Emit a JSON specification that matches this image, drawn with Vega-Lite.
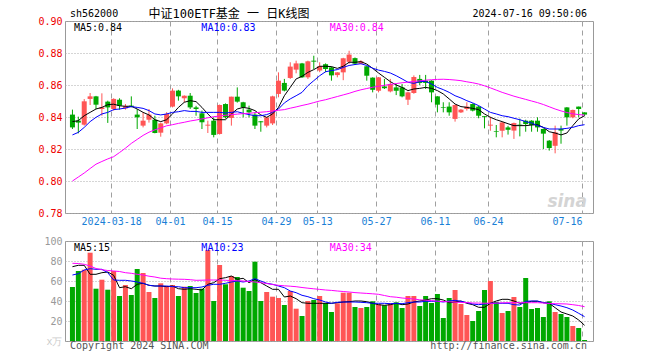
{
  "$schema": "https://vega.github.io/schema/vega-lite/v6.json",
  "background": "white",
  "padding": {"left": 0, "top": 7, "right": 5, "bottom": 5},
  "bounds": "flush",
  "spacing": 28,
  "config": {
    "view": {"stroke": "#999999", "strokeWidth": 1},
    "font": "DejaVu Sans Mono",
    "axis": {"labelFont": "DejaVu Sans Mono", "labelFontSize": 10, "ticks": false, "domain": false, "title": null, "labelOverlap": false, "labelBound": false},
    "text": {"font": "DejaVu Sans Mono", "fontSize": 10}
  },
  "datasets": {
    "k": [
      {"i":0,"o":0.8415,"h":0.8446,"l":0.8325,"c":0.8335,"m5":0.8371,"m10":0.8288,"m30":0.8000,"v":54,"vm5":74.3,"vm10":66,"vm30":77.7},
      {"i":1,"o":0.8377,"h":0.8402,"l":0.8298,"c":0.8365,"m5":0.8377,"m10":0.8304,"m30":0.8025,"v":70,"vm5":75.7,"vm10":67.3,"vm30":77.5},
      {"i":2,"o":0.8352,"h":0.8512,"l":0.8346,"c":0.8498,"m5":0.8408,"m10":0.8335,"m30":0.8050,"v":71.3,"vm5":75.7,"vm10":71,"vm30":76.7},
      {"i":3,"o":0.8513,"h":0.8550,"l":0.8475,"c":0.8529,"m5":0.8429,"m10":0.8371,"m30":0.8078,"v":88.3,"vm5":66.7,"vm10":72.3,"vm30":75},
      {"i":4,"o":0.8529,"h":0.8532,"l":0.8450,"c":0.8477,"m5":0.8450,"m10":0.8398,"m30":0.8105,"v":52.3,"vm5":66.7,"vm10":71.7,"vm30":72.5},
      {"i":5,"o":0.8450,"h":0.8548,"l":0.8408,"c":0.8460,"m5":0.8460,"m10":0.8419,"m30":0.8122,"v":61.3,"vm5":68.3,"vm10":71.7,"vm30":71.3},
      {"i":6,"o":0.8496,"h":0.8502,"l":0.8363,"c":0.8460,"m5":0.8477,"m10":0.8429,"m30":0.8138,"v":51.3,"vm5":69,"vm10":68.3,"vm30":70.5},
      {"i":7,"o":0.8450,"h":0.8517,"l":0.8440,"c":0.8513,"m5":0.8480,"m10":0.8446,"m30":0.8152,"v":70,"vm5":65.7,"vm10":61,"vm30":70},
      {"i":8,"o":0.8508,"h":0.8517,"l":0.8446,"c":0.8471,"m5":0.8470,"m10":0.8450,"m30":0.8178,"v":45,"vm5":53.3,"vm10":60.7,"vm30":69.5},
      {"i":9,"o":0.8454,"h":0.8481,"l":0.8446,"c":0.8467,"m5":0.8467,"m10":0.8456,"m30":0.8205,"v":56,"vm5":54.3,"vm10":60.7,"vm30":68.3},
      {"i":10,"o":0.8471,"h":0.8529,"l":0.8460,"c":0.8465,"m5":0.8467,"m10":0.8465,"m30":0.8235,"v":46,"vm5":52.3,"vm10":60,"vm30":67.7},
      {"i":11,"o":0.8415,"h":0.8450,"l":0.8325,"c":0.8398,"m5":0.8450,"m10":0.8460,"m30":0.8260,"v":72,"vm5":56.7,"vm10":59,"vm30":66.7},
      {"i":12,"o":0.8346,"h":0.8429,"l":0.8335,"c":0.8377,"m5":0.8429,"m10":0.8454,"m30":0.8285,"v":68,"vm5":57.7,"vm10":57.7,"vm30":66},
      {"i":13,"o":0.8383,"h":0.8450,"l":0.8365,"c":0.8415,"m5":0.8413,"m10":0.8440,"m30":0.8305,"v":49,"vm5":55.7,"vm10":55.7,"vm30":64.8},
      {"i":14,"o":0.8383,"h":0.8408,"l":0.8298,"c":0.8300,"m5":0.8383,"m10":0.8419,"m30":0.8320,"v":43,"vm5":55,"vm10":55,"vm30":64},
      {"i":15,"o":0.8302,"h":0.8365,"l":0.8277,"c":0.8360,"m5":0.8371,"m10":0.8413,"m30":0.8332,"v":57.7,"vm5":55,"vm10":55,"vm30":62.8},
      {"i":16,"o":0.8360,"h":0.8430,"l":0.8355,"c":0.8419,"m5":0.8383,"m10":0.8419,"m30":0.8345,"v":55,"vm5":54.3,"vm10":55,"vm30":62.3},
      {"i":17,"o":0.8465,"h":0.8579,"l":0.8460,"c":0.8565,"m5":0.8419,"m10":0.8429,"m30":0.8352,"v":56,"vm5":55,"vm10":54.3,"vm30":62},
      {"i":18,"o":0.8565,"h":0.8570,"l":0.8502,"c":0.8529,"m5":0.8460,"m10":0.8433,"m30":0.8360,"v":45,"vm5":52.3,"vm10":54.3,"vm30":61.8},
      {"i":19,"o":0.8517,"h":0.8535,"l":0.8492,"c":0.8533,"m5":0.8492,"m10":0.8440,"m30":0.8367,"v":54.3,"vm5":51.7,"vm10":53.3,"vm30":61.7},
      {"i":20,"o":0.8533,"h":0.8550,"l":0.8450,"c":0.8460,"m5":0.8502,"m10":0.8435,"m30":0.8375,"v":55,"vm5":52.3,"vm10":53.3,"vm30":61.3},
      {"i":21,"o":0.8460,"h":0.8470,"l":0.8408,"c":0.8450,"m5":0.8496,"m10":0.8435,"m30":0.8381,"v":48,"vm5":51.7,"vm10":53.3,"vm30":60.7},
      {"i":22,"o":0.8423,"h":0.8440,"l":0.8325,"c":0.8367,"m5":0.8460,"m10":0.8429,"m30":0.8388,"v":52.3,"vm5":51,"vm10":54,"vm30":60.8},
      {"i":23,"o":0.8346,"h":0.8377,"l":0.8300,"c":0.8352,"m5":0.8419,"m10":0.8429,"m30":0.8395,"v":91,"vm5":56.7,"vm10":55.7,"vm30":61},
      {"i":24,"o":0.8377,"h":0.8398,"l":0.8273,"c":0.8288,"m5":0.8383,"m10":0.8429,"m30":0.8402,"v":40,"vm5":58.3,"vm10":56.7,"vm30":61},
      {"i":25,"o":0.8294,"h":0.8478,"l":0.8290,"c":0.8475,"m5":0.8383,"m10":0.8429,"m30":0.8406,"v":76,"vm5":62.3,"vm10":56.7,"vm30":61},
      {"i":26,"o":0.8481,"h":0.8485,"l":0.8390,"c":0.8398,"m5":0.8383,"m10":0.8425,"m30":0.8411,"v":56.7,"vm5":63.3,"vm10":57.7,"vm30":60.7},
      {"i":27,"o":0.8394,"h":0.8527,"l":0.8346,"c":0.8527,"m5":0.8419,"m10":0.8429,"m30":0.8415,"v":65,"vm5":65,"vm10":59,"vm30":60.5},
      {"i":28,"o":0.8527,"h":0.8585,"l":0.8490,"c":0.8496,"m5":0.8450,"m10":0.8433,"m30":0.8418,"v":64,"vm5":61.7,"vm10":60,"vm30":60.3},
      {"i":29,"o":0.8492,"h":0.8495,"l":0.8398,"c":0.8460,"m5":0.8460,"m10":0.8423,"m30":0.8421,"v":53.3,"vm5":62.7,"vm10":59,"vm30":60},
      {"i":30,"o":0.8446,"h":0.8471,"l":0.8398,"c":0.8429,"m5":0.8454,"m10":0.8415,"m30":0.8423,"v":50,"vm5":58.3,"vm10":60,"vm30":59.5},
      {"i":31,"o":0.8415,"h":0.8429,"l":0.8325,"c":0.8346,"m5":0.8440,"m10":0.8408,"m30":0.8427,"v":79.3,"vm5":61.7,"vm10":62.3,"vm30":59},
      {"i":32,"o":0.8373,"h":0.8375,"l":0.8308,"c":0.8367,"m5":0.8413,"m10":0.8408,"m30":0.8430,"v":40,"vm5":58.3,"vm10":60,"vm30":58.3},
      {"i":33,"o":0.8346,"h":0.8400,"l":0.8335,"c":0.8398,"m5":0.8398,"m10":0.8415,"m30":0.8433,"v":49,"vm5":55,"vm10":57.7,"vm30":57.5},
      {"i":34,"o":0.8360,"h":0.8533,"l":0.8350,"c":0.8529,"m5":0.8419,"m10":0.8429,"m30":0.8438,"v":44.3,"vm5":51.7,"vm10":56.7,"vm30":56.5},
      {"i":35,"o":0.8544,"h":0.8679,"l":0.8523,"c":0.8627,"m5":0.8460,"m10":0.8450,"m30":0.8442,"v":43,"vm5":51.7,"vm10":55,"vm30":55.7},
      {"i":36,"o":0.8613,"h":0.8638,"l":0.8560,"c":0.8565,"m5":0.8533,"m10":0.8488,"m30":0.8446,"v":36,"vm5":44,"vm10":53.3,"vm30":55.2},
      {"i":37,"o":0.8644,"h":0.8742,"l":0.8638,"c":0.8715,"m5":0.8585,"m10":0.8513,"m30":0.8455,"v":50,"vm5":45,"vm10":50,"vm30":54.8},
      {"i":38,"o":0.8696,"h":0.8752,"l":0.8673,"c":0.8735,"m5":0.8638,"m10":0.8533,"m30":0.8463,"v":32.3,"vm5":42.3,"vm10":48.3,"vm30":54.3},
      {"i":39,"o":0.8735,"h":0.8738,"l":0.8644,"c":0.8648,"m5":0.8654,"m10":0.8554,"m30":0.8472,"v":25,"vm5":38.3,"vm10":45.7,"vm30":53.5},
      {"i":40,"o":0.8648,"h":0.8752,"l":0.8638,"c":0.8748,"m5":0.8679,"m10":0.8596,"m30":0.8480,"v":40,"vm5":37.7,"vm10":44.3,"vm30":52.8},
      {"i":41,"o":0.8752,"h":0.8783,"l":0.8700,"c":0.8746,"m5":0.8696,"m10":0.8627,"m30":0.8490,"v":41,"vm5":37.7,"vm10":42.3,"vm30":52.2},
      {"i":42,"o":0.8690,"h":0.8742,"l":0.8680,"c":0.8717,"m5":0.8717,"m10":0.8658,"m30":0.8500,"v":45,"vm5":37.7,"vm10":41,"vm30":51.6},
      {"i":43,"o":0.8730,"h":0.8735,"l":0.8680,"c":0.8700,"m5":0.8717,"m10":0.8683,"m30":0.8508,"v":38,"vm5":37.7,"vm10":39,"vm30":51},
      {"i":44,"o":0.8710,"h":0.8715,"l":0.8627,"c":0.8660,"m5":0.8715,"m10":0.8690,"m30":0.8518,"v":29,"vm5":37.7,"vm10":37.7,"vm30":50.6},
      {"i":45,"o":0.8662,"h":0.8680,"l":0.8648,"c":0.8679,"m5":0.8704,"m10":0.8696,"m30":0.8528,"v":37.7,"vm5":38.3,"vm10":38.7,"vm30":50},
      {"i":46,"o":0.8679,"h":0.8770,"l":0.8630,"c":0.8767,"m5":0.8717,"m10":0.8710,"m30":0.8538,"v":48.3,"vm5":39,"vm10":39,"vm30":49.5},
      {"i":47,"o":0.8745,"h":0.8814,"l":0.8733,"c":0.8790,"m5":0.8742,"m10":0.8722,"m30":0.8548,"v":48.3,"vm5":39.3,"vm10":39,"vm30":49},
      {"i":48,"o":0.8768,"h":0.8772,"l":0.8725,"c":0.8733,"m5":0.8742,"m10":0.8728,"m30":0.8560,"v":34,"vm5":40,"vm10":39,"vm30":48.4},
      {"i":49,"o":0.8733,"h":0.8755,"l":0.8730,"c":0.8748,"m5":0.8746,"m10":0.8733,"m30":0.8570,"v":33,"vm5":40,"vm10":38.7,"vm30":48},
      {"i":50,"o":0.8717,"h":0.8718,"l":0.8627,"c":0.8658,"m5":0.8731,"m10":0.8722,"m30":0.8578,"v":34,"vm5":39.3,"vm10":38.3,"vm30":47.6},
      {"i":51,"o":0.8646,"h":0.8648,"l":0.8554,"c":0.8570,"m5":0.8704,"m10":0.8705,"m30":0.8586,"v":39.7,"vm5":37.7,"vm10":37.7,"vm30":47.2},
      {"i":52,"o":0.8564,"h":0.8650,"l":0.8554,"c":0.8648,"m5":0.8675,"m10":0.8693,"m30":0.8592,"v":36.7,"vm5":36.3,"vm10":37.7,"vm30":46.7},
      {"i":53,"o":0.8591,"h":0.8638,"l":0.8575,"c":0.8580,"m5":0.8648,"m10":0.8685,"m30":0.8598,"v":35.7,"vm5":35.7,"vm10":37.7,"vm30":45.5},
      {"i":54,"o":0.8560,"h":0.8638,"l":0.8554,"c":0.8606,"m5":0.8621,"m10":0.8675,"m30":0.8604,"v":37.7,"vm5":36.3,"vm10":37.3,"vm30":44.3},
      {"i":55,"o":0.8585,"h":0.8606,"l":0.8537,"c":0.8564,"m5":0.8600,"m10":0.8658,"m30":0.8609,"v":38.7,"vm5":37.7,"vm10":37.7,"vm30":43.8},
      {"i":56,"o":0.8585,"h":0.8606,"l":0.8523,"c":0.8529,"m5":0.8585,"m10":0.8638,"m30":0.8614,"v":33,"vm5":36.3,"vm10":37.3,"vm30":43},
      {"i":57,"o":0.8508,"h":0.8558,"l":0.8475,"c":0.8554,"m5":0.8565,"m10":0.8617,"m30":0.8618,"v":45,"vm5":37,"vm10":38.3,"vm30":42.5},
      {"i":58,"o":0.8550,"h":0.8660,"l":0.8545,"c":0.8650,"m5":0.8575,"m10":0.8610,"m30":0.8622,"v":45,"vm5":39,"vm10":39,"vm30":42},
      {"i":59,"o":0.8638,"h":0.8663,"l":0.8600,"c":0.8613,"m5":0.8579,"m10":0.8621,"m30":0.8626,"v":35,"vm5":40,"vm10":39,"vm30":41.2},
      {"i":60,"o":0.8627,"h":0.8663,"l":0.8575,"c":0.8613,"m5":0.8585,"m10":0.8623,"m30":0.8630,"v":45,"vm5":41,"vm10":39.7,"vm30":40.8},
      {"i":61,"o":0.8627,"h":0.8630,"l":0.8492,"c":0.8554,"m5":0.8579,"m10":0.8606,"m30":0.8633,"v":38,"vm5":42.3,"vm10":39.7,"vm30":40.4},
      {"i":62,"o":0.8529,"h":0.8530,"l":0.8429,"c":0.8477,"m5":0.8565,"m10":0.8585,"m30":0.8635,"v":47,"vm5":42.3,"vm10":39.7,"vm30":39.8},
      {"i":63,"o":0.8462,"h":0.8492,"l":0.8429,"c":0.8458,"m5":0.8544,"m10":0.8571,"m30":0.8636,"v":23,"vm5":41,"vm10":39,"vm30":39.5},
      {"i":64,"o":0.8465,"h":0.8492,"l":0.8408,"c":0.8429,"m5":0.8513,"m10":0.8554,"m30":0.8634,"v":43,"vm5":38.3,"vm10":40,"vm30":39.2},
      {"i":65,"o":0.8388,"h":0.8478,"l":0.8371,"c":0.8475,"m5":0.8481,"m10":0.8533,"m30":0.8631,"v":51,"vm5":39,"vm10":40.7,"vm30":38.8},
      {"i":66,"o":0.8429,"h":0.8450,"l":0.8425,"c":0.8446,"m5":0.8465,"m10":0.8519,"m30":0.8627,"v":37,"vm5":40,"vm10":39.7,"vm30":38.6},
      {"i":67,"o":0.8450,"h":0.8492,"l":0.8440,"c":0.8465,"m5":0.8460,"m10":0.8502,"m30":0.8620,"v":26,"vm5":37.7,"vm10":38.3,"vm30":38.4},
      {"i":68,"o":0.8481,"h":0.8485,"l":0.8435,"c":0.8440,"m5":0.8454,"m10":0.8488,"m30":0.8614,"v":20,"vm5":36.3,"vm10":37,"vm30":38},
      {"i":69,"o":0.8465,"h":0.8470,"l":0.8392,"c":0.8408,"m5":0.8446,"m10":0.8471,"m30":0.8606,"v":30,"vm5":33.7,"vm10":36.3,"vm30":37.9},
      {"i":70,"o":0.8405,"h":0.8405,"l":0.8329,"c":0.8400,"m5":0.8419,"m10":0.8450,"m30":0.8595,"v":51,"vm5":33.7,"vm10":37,"vm30":37.8},
      {"i":71,"o":0.8346,"h":0.8402,"l":0.8314,"c":0.8352,"m5":0.8398,"m10":0.8429,"m30":0.8582,"v":60,"vm5":37.7,"vm10":37.7,"vm30":37.7},
      {"i":72,"o":0.8312,"h":0.8350,"l":0.8273,"c":0.8308,"m5":0.8383,"m10":0.8419,"m30":0.8568,"v":39,"vm5":40,"vm10":37.7,"vm30":37.9},
      {"i":73,"o":0.8314,"h":0.8370,"l":0.8273,"c":0.8366,"m5":0.8371,"m10":0.8408,"m30":0.8554,"v":28,"vm5":41.7,"vm10":37.7,"vm30":38.2},
      {"i":74,"o":0.8335,"h":0.8345,"l":0.8290,"c":0.8320,"m5":0.8358,"m10":0.8402,"m30":0.8542,"v":30,"vm5":41.7,"vm10":37.7,"vm30":38.3},
      {"i":75,"o":0.8315,"h":0.8365,"l":0.8263,"c":0.8362,"m5":0.8346,"m10":0.8392,"m30":0.8530,"v":44,"vm5":40,"vm10":36.3,"vm30":38.3},
      {"i":76,"o":0.8352,"h":0.8390,"l":0.8279,"c":0.8348,"m5":0.8346,"m10":0.8383,"m30":0.8520,"v":34,"vm5":37.7,"vm10":36,"vm30":38.3},
      {"i":77,"o":0.8377,"h":0.8383,"l":0.8308,"c":0.8356,"m5":0.8346,"m10":0.8371,"m30":0.8510,"v":63,"vm5":38.3,"vm10":39.7,"vm30":38.3},
      {"i":78,"o":0.8377,"h":0.8380,"l":0.8308,"c":0.8350,"m5":0.8350,"m10":0.8363,"m30":0.8500,"v":32,"vm5":39.7,"vm10":40,"vm30":38.3},
      {"i":79,"o":0.8377,"h":0.8398,"l":0.8308,"c":0.8335,"m5":0.8352,"m10":0.8346,"m30":0.8490,"v":33,"vm5":39.7,"vm10":40,"vm30":38.3},
      {"i":80,"o":0.8325,"h":0.8329,"l":0.8200,"c":0.8296,"m5":0.8335,"m10":0.8335,"m30":0.8478,"v":24,"vm5":38.3,"vm10":38.3,"vm30":38},
      {"i":81,"o":0.8252,"h":0.8256,"l":0.8190,"c":0.8206,"m5":0.8308,"m10":0.8325,"m30":0.8464,"v":39.7,"vm5":37.7,"vm10":37.7,"vm30":37.5},
      {"i":82,"o":0.8220,"h":0.8346,"l":0.8173,"c":0.8304,"m5":0.8300,"m10":0.8325,"m30":0.8450,"v":29,"vm5":33.3,"vm10":36.3,"vm30":37.3},
      {"i":83,"o":0.8325,"h":0.8346,"l":0.8233,"c":0.8315,"m5":0.8288,"m10":0.8325,"m30":0.8438,"v":27,"vm5":29,"vm10":35,"vm30":37.2},
      {"i":84,"o":0.8460,"h":0.8462,"l":0.8346,"c":0.8398,"m5":0.8300,"m10":0.8329,"m30":0.8428,"v":24,"vm5":27,"vm10":33.3,"vm30":37},
      {"i":85,"o":0.8398,"h":0.8446,"l":0.8392,"c":0.8444,"m5":0.8346,"m10":0.8335,"m30":0.8420,"v":15,"vm5":25,"vm10":31,"vm30":36.3},
      {"i":86,"o":0.8465,"h":0.8465,"l":0.8398,"c":0.8450,"m5":0.8388,"m10":0.8346,"m30":0.8415,"v":13,"vm5":21,"vm10":27.7,"vm30":35.5},
      {"i":87,"o":0.8429,"h":0.8429,"l":0.8405,"c":0.8415,"m5":0.8408,"m10":0.8352,"m30":0.8412,"v":1,"vm5":15.7,"vm10":24.3,"vm30":34.3}
    ]
  },
  "vconcat": [
    {
      "width": 528,
      "height": 192,
      "data": {"name": "k"},
      "layer": [
        {
          "mark": {"type": "rule", "strokeWidth": 1},
          "encoding": {
            "x": {"field": "i", "type": "quantitative", "scale": {"domain": [-0.41667, 87.58333], "nice": false, "zero": false},
              "axis": {"values": [6.58333, 16.58333, 24.58333, 34.58333, 41.58333, 51.58333, 61.58333, 70.58333, 86.58333], "tickCount": 30,
                "labelExpr": "['2024-03-18','04-01','04-15','04-29','05-13','05-27','06-11','06-24','07-16'][indexof([7,17,25,35,42,52,62,71,87], round(datum.value + 0.41667))]",
                "labelColor": "#1a7fd6", "labelPadding": 3, "labelFlush": false,
                "labelAlign": {"condition": {"test": "datum.value > 80", "value": "right"}, "value": "center"},
                "grid": true, "gridColor": "#a0a0a0", "gridDash": [5, 4], "gridWidth": 1}},
            "y": {"field": "l", "type": "quantitative", "scale": {"domain": [0.78, 0.90], "nice": false, "zero": false},
              "axis": {"values": [0.78, 0.80, 0.82, 0.84, 0.86, 0.88, 0.90], "tickCount": 20, "format": ".2f", "labelColor": "#ee0000", "labelPadding": 3, "labelFlush": false,
                "grid": true, "gridColor": "#aaaaaa", "gridDash": [1, 2], "minExtent": 64, "maxExtent": 64}},
            "y2": {"field": "h"},
            "color": {"condition": {"test": "datum.c >= datum.o", "value": "#ff5555"}, "value": "#00a800"}
          }
        },
        {
          "mark": {"type": "bar", "size": 5},
          "encoding": {
            "x": {"field": "i", "type": "quantitative", "scale": {"domain": [-0.41667, 87.58333], "nice": false, "zero": false}},
            "y": {"field": "o", "type": "quantitative", "scale": {"domain": [0.78, 0.90], "nice": false, "zero": false}},
            "y2": {"field": "c"},
            "color": {"condition": {"test": "datum.c >= datum.o", "value": "#ff5555"}, "value": "#00a800"}
          }
        },
        {
          "mark": {"type": "line", "color": "#000000", "strokeWidth": 1},
          "encoding": {
            "x": {"field": "i", "type": "quantitative", "scale": {"domain": [-0.41667, 87.58333], "nice": false, "zero": false}},
            "y": {"field": "m5", "type": "quantitative", "scale": {"domain": [0.78, 0.90], "nice": false, "zero": false}}
          }
        },
        {
          "mark": {"type": "line", "color": "#0000ff", "strokeWidth": 1},
          "encoding": {
            "x": {"field": "i", "type": "quantitative", "scale": {"domain": [-0.41667, 87.58333], "nice": false, "zero": false}},
            "y": {"field": "m10", "type": "quantitative", "scale": {"domain": [0.78, 0.90], "nice": false, "zero": false}}
          }
        },
        {
          "mark": {"type": "line", "color": "#ff00ff", "strokeWidth": 1},
          "encoding": {
            "x": {"field": "i", "type": "quantitative", "scale": {"domain": [-0.41667, 87.58333], "nice": false, "zero": false}},
            "y": {"field": "m30", "type": "quantitative", "scale": {"domain": [0.78, 0.90], "nice": false, "zero": false}}
          }
        },
        {
          "data": {"values": [{"t": "MA5:0.84"}]},
          "mark": {"type": "text", "align": "left", "baseline": "alphabetic", "dy": 10, "color": "#000000"},
          "encoding": {"x": {"datum": 0.25, "type": "quantitative"}, "y": {"datum": 0.90, "type": "quantitative"}, "text": {"field": "t"}}
        },
        {
          "data": {"values": [{"t": "MA10:0.83"}]},
          "mark": {"type": "text", "align": "left", "baseline": "alphabetic", "dy": 10, "color": "#0000ff"},
          "encoding": {"x": {"datum": 21.9, "type": "quantitative"}, "y": {"datum": 0.90, "type": "quantitative"}, "text": {"field": "t"}}
        },
        {
          "data": {"values": [{"t": "MA30:0.84"}]},
          "mark": {"type": "text", "align": "left", "baseline": "alphabetic", "dy": 10, "color": "#ff00ff"},
          "encoding": {"x": {"datum": 43.7, "type": "quantitative"}, "y": {"datum": 0.90, "type": "quantitative"}, "text": {"field": "t"}}
        },
        {
          "data": {"values": [{"t": "sh562000"}]},
          "mark": {"type": "text", "align": "left", "baseline": "alphabetic", "dy": -4, "color": "#000000"},
          "encoding": {"x": {"datum": -0.41667, "type": "quantitative"}, "y": {"datum": 0.90, "type": "quantitative"}, "text": {"field": "t"}}
        },
        {
          "data": {"values": [{"t": "中证100ETF基金 一 日K线图"}]},
          "mark": {"type": "text", "align": "left", "baseline": "alphabetic", "dy": -3, "color": "#000000", "fontSize": 12, "font": "DejaVu Sans Mono, Noto Sans CJK SC"},
          "encoding": {"x": {"datum": 12.92, "type": "quantitative"}, "y": {"datum": 0.90, "type": "quantitative"}, "text": {"field": "t"}}
        },
        {
          "data": {"values": [{"t": "2024-07-16 09:50:06"}]},
          "mark": {"type": "text", "align": "right", "baseline": "alphabetic", "dy": -4, "color": "#000000"},
          "encoding": {"x": {"datum": 87.4, "type": "quantitative"}, "y": {"datum": 0.90, "type": "quantitative"}, "text": {"field": "t"}}
        },
        {
          "data": {"values": [{"t": "sina"}]},
          "mark": {"type": "text", "align": "right", "baseline": "alphabetic", "color": "#d4d4d4", "fontSize": 17, "fontStyle": "italic", "fontWeight": "bold", "font": "DejaVu Sans"},
          "encoding": {"x": {"datum": 87.4, "type": "quantitative"}, "y": {"datum": 0.7835, "type": "quantitative"}, "text": {"field": "t"}}
        }
      ]
    },
    {
      "width": 528,
      "height": 100,
      "data": {"name": "k"},
      "layer": [
        {
          "mark": {"type": "bar", "size": 5},
          "encoding": {
            "x": {"field": "i", "type": "quantitative", "scale": {"domain": [-0.41667, 87.58333], "nice": false, "zero": false},
              "axis": {"values": [6.58333, 16.58333, 24.58333, 34.58333, 41.58333, 51.58333, 61.58333, 70.58333, 86.58333], "tickCount": 30, "labels": false,
                "grid": true, "gridColor": "#a0a0a0", "gridDash": [5, 4], "gridWidth": 1}},
            "y": {"field": "v", "type": "quantitative", "scale": {"domain": [0, 100], "nice": false},
              "axis": {"values": [0, 20, 40, 60, 80, 100], "tickCount": 20, "labelExpr": "datum.value == 0 ? 'x万' : datum.label", "labelPadding": 3, "labelFlush": false,
                "labelColor": {"condition": {"test": "datum.value == 0", "value": "#cccccc"}, "value": "#999999"},
                "grid": true, "gridColor": "#aaaaaa", "gridDash": [1, 2], "minExtent": 64, "maxExtent": 64}},
            "color": {"condition": {"test": "datum.c >= datum.o", "value": "#ff5555"}, "value": "#00a800"}
          }
        },
        {
          "mark": {"type": "line", "color": "#000000", "strokeWidth": 1},
          "encoding": {
            "x": {"field": "i", "type": "quantitative", "scale": {"domain": [-0.41667, 87.58333], "nice": false, "zero": false}},
            "y": {"field": "vm5", "type": "quantitative", "scale": {"domain": [0, 100], "nice": false}}
          }
        },
        {
          "mark": {"type": "line", "color": "#0000ff", "strokeWidth": 1},
          "encoding": {
            "x": {"field": "i", "type": "quantitative", "scale": {"domain": [-0.41667, 87.58333], "nice": false, "zero": false}},
            "y": {"field": "vm10", "type": "quantitative", "scale": {"domain": [0, 100], "nice": false}}
          }
        },
        {
          "mark": {"type": "line", "color": "#ff00ff", "strokeWidth": 1},
          "encoding": {
            "x": {"field": "i", "type": "quantitative", "scale": {"domain": [-0.41667, 87.58333], "nice": false, "zero": false}},
            "y": {"field": "vm30", "type": "quantitative", "scale": {"domain": [0, 100], "nice": false}}
          }
        },
        {
          "data": {"values": [{"t": "MA5:15"}]},
          "mark": {"type": "text", "align": "left", "baseline": "alphabetic", "dy": 10, "color": "#000000"},
          "encoding": {"x": {"datum": 0.25, "type": "quantitative"}, "y": {"datum": 100, "type": "quantitative"}, "text": {"field": "t"}}
        },
        {
          "data": {"values": [{"t": "MA10:23"}]},
          "mark": {"type": "text", "align": "left", "baseline": "alphabetic", "dy": 10, "color": "#0000ff"},
          "encoding": {"x": {"datum": 21.9, "type": "quantitative"}, "y": {"datum": 100, "type": "quantitative"}, "text": {"field": "t"}}
        },
        {
          "data": {"values": [{"t": "MA30:34"}]},
          "mark": {"type": "text", "align": "left", "baseline": "alphabetic", "dy": 10, "color": "#ff00ff"},
          "encoding": {"x": {"datum": 43.7, "type": "quantitative"}, "y": {"datum": 100, "type": "quantitative"}, "text": {"field": "t"}}
        },
        {
          "data": {"values": [{"t": "Copyright 2024 SINA.COM"}]},
          "mark": {"type": "text", "align": "left", "baseline": "alphabetic", "dy": 8, "color": "#555555"},
          "encoding": {"x": {"datum": -0.41667, "type": "quantitative"}, "y": {"datum": 0, "type": "quantitative"}, "text": {"field": "t"}}
        },
        {
          "data": {"values": [{"t": "http://finance.sina.com.cn"}]},
          "mark": {"type": "text", "align": "right", "baseline": "alphabetic", "dy": 8, "color": "#555555"},
          "encoding": {"x": {"datum": 87.4, "type": "quantitative"}, "y": {"datum": 0, "type": "quantitative"}, "text": {"field": "t"}}
        }
      ]
    }
  ]
}
